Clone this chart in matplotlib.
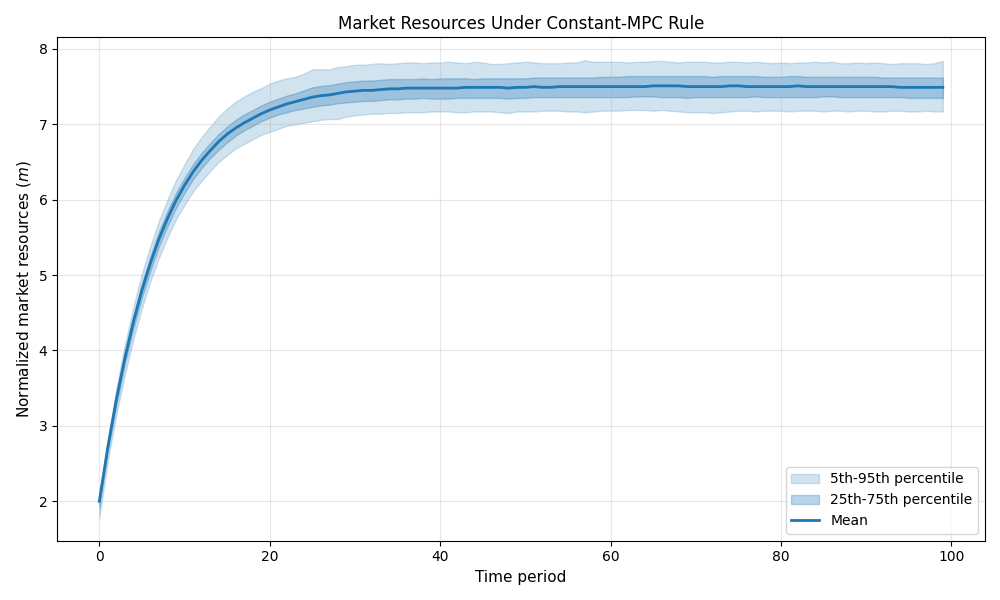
import matplotlib
matplotlib.use("Agg")
import matplotlib.pyplot as plt
import numpy as np

periods = list(range(100))

mean_m = [2.00, 2.72, 3.35, 3.90, 4.38, 4.80, 5.16, 5.48, 5.75, 5.99,
          6.19, 6.37, 6.52, 6.65, 6.77, 6.87, 6.95, 7.02, 7.08, 7.14,
          7.19, 7.23, 7.27, 7.30, 7.33, 7.36, 7.38, 7.39, 7.41, 7.43,
          7.44, 7.45, 7.45, 7.46, 7.47, 7.47, 7.48, 7.48, 7.48, 7.48,
          7.48, 7.48, 7.48, 7.49, 7.49, 7.49, 7.49, 7.49, 7.48, 7.49,
          7.49, 7.50, 7.49, 7.49, 7.50, 7.50, 7.50, 7.50, 7.50, 7.50,
          7.50, 7.50, 7.50, 7.50, 7.50, 7.51, 7.51, 7.51, 7.51, 7.50,
          7.50, 7.50, 7.50, 7.50, 7.51, 7.51, 7.50, 7.50, 7.50, 7.50,
          7.50, 7.50, 7.51, 7.50, 7.50, 7.50, 7.50, 7.50, 7.50, 7.50,
          7.50, 7.50, 7.50, 7.50, 7.49, 7.49, 7.49, 7.49, 7.49, 7.49]

p95 = [2.02, 2.82, 3.50, 4.08, 4.58, 5.02, 5.39, 5.72, 6.00, 6.26,
       6.47, 6.67, 6.83, 6.97, 7.10, 7.21, 7.30, 7.37, 7.43, 7.48,
       7.54, 7.58, 7.61, 7.63, 7.67, 7.73, 7.73, 7.73, 7.76, 7.77,
       7.79, 7.79, 7.80, 7.81, 7.80, 7.81, 7.82, 7.82, 7.81, 7.82,
       7.82, 7.83, 7.82, 7.81, 7.83, 7.82, 7.80, 7.80, 7.81, 7.82,
       7.83, 7.82, 7.81, 7.81, 7.81, 7.82, 7.82, 7.85, 7.83, 7.83,
       7.83, 7.83, 7.82, 7.83, 7.83, 7.84, 7.84, 7.83, 7.82, 7.83,
       7.83, 7.83, 7.82, 7.82, 7.83, 7.83, 7.82, 7.83, 7.82, 7.81,
       7.82, 7.81, 7.82, 7.82, 7.83, 7.82, 7.83, 7.81, 7.81, 7.82,
       7.81, 7.82, 7.81, 7.80, 7.81, 7.81, 7.81, 7.80, 7.81, 7.84]

p5 = [1.78, 2.54, 3.15, 3.68, 4.15, 4.56, 4.92, 5.23, 5.50, 5.74,
      5.93, 6.11, 6.25, 6.38, 6.50, 6.59, 6.68, 6.74, 6.80, 6.86,
      6.90, 6.94, 6.98, 7.00, 7.02, 7.04, 7.06, 7.07, 7.07, 7.10,
      7.12, 7.13, 7.14, 7.14, 7.15, 7.15, 7.16, 7.16, 7.16, 7.17,
      7.17, 7.17, 7.16, 7.16, 7.17, 7.17, 7.17, 7.16, 7.15, 7.17,
      7.17, 7.17, 7.18, 7.18, 7.18, 7.17, 7.17, 7.16, 7.17, 7.18,
      7.18, 7.18, 7.19, 7.19, 7.19, 7.18, 7.19, 7.18, 7.17, 7.16,
      7.16, 7.16, 7.15, 7.16, 7.17, 7.18, 7.18, 7.17, 7.18, 7.18,
      7.18, 7.17, 7.18, 7.18, 7.18, 7.17, 7.18, 7.18, 7.17, 7.18,
      7.18, 7.17, 7.17, 7.18, 7.18, 7.17, 7.17, 7.18, 7.17, 7.17]

p75 = [2.00, 2.76, 3.41, 3.97, 4.46, 4.89, 5.25, 5.58, 5.85, 6.09,
       6.29, 6.47, 6.62, 6.75, 6.87, 6.97, 7.06, 7.13, 7.19, 7.25,
       7.30, 7.34, 7.38, 7.41, 7.45, 7.49, 7.51, 7.52, 7.54, 7.56,
       7.57, 7.58, 7.58, 7.59, 7.60, 7.60, 7.60, 7.60, 7.61, 7.60,
       7.61, 7.61, 7.61, 7.61, 7.60, 7.61, 7.61, 7.61, 7.61, 7.61,
       7.61, 7.62, 7.62, 7.62, 7.62, 7.62, 7.62, 7.62, 7.62, 7.63,
       7.63, 7.63, 7.64, 7.64, 7.64, 7.64, 7.64, 7.64, 7.64, 7.64,
       7.64, 7.64, 7.63, 7.64, 7.64, 7.64, 7.64, 7.64, 7.63, 7.63,
       7.63, 7.64, 7.64, 7.63, 7.63, 7.63, 7.63, 7.63, 7.63, 7.63,
       7.63, 7.63, 7.62, 7.62, 7.62, 7.62, 7.62, 7.62, 7.62, 7.62]

p25 = [1.93, 2.66, 3.28, 3.82, 4.29, 4.70, 5.06, 5.38, 5.65, 5.89,
       6.09, 6.27, 6.42, 6.55, 6.66, 6.76, 6.85, 6.92, 6.98, 7.04,
       7.09, 7.13, 7.16, 7.19, 7.21, 7.23, 7.25, 7.26, 7.28, 7.29,
       7.30, 7.31, 7.31, 7.32, 7.33, 7.33, 7.34, 7.34, 7.35, 7.34,
       7.34, 7.34, 7.35, 7.35, 7.35, 7.35, 7.35, 7.35, 7.34, 7.35,
       7.35, 7.36, 7.36, 7.36, 7.36, 7.36, 7.36, 7.36, 7.36, 7.36,
       7.36, 7.36, 7.36, 7.37, 7.37, 7.37, 7.36, 7.36, 7.36, 7.35,
       7.36, 7.36, 7.36, 7.36, 7.36, 7.36, 7.36, 7.37, 7.36, 7.36,
       7.36, 7.36, 7.36, 7.36, 7.36, 7.37, 7.37, 7.36, 7.36, 7.36,
       7.36, 7.36, 7.36, 7.36, 7.36, 7.35, 7.35, 7.35, 7.35, 7.35]

fig, ax = plt.subplots(figsize=(10, 6), dpi=100)
ax.fill_between(periods, p5, p95, color="C0", alpha=0.2, label="5th-95th percentile")
ax.fill_between(periods, p25, p75, color="C0", alpha=0.3, label="25th-75th percentile")
ax.plot(periods, mean_m, color="C0", linewidth=2, label="Mean")
ax.set_title("Market Resources Under Constant-MPC Rule", fontsize=12)
ax.set_xlabel("Time period", fontsize=11)
ax.set_ylabel("Normalized market resources ($m$)", fontsize=11)
ax.grid(True, alpha=0.3)
ax.legend(loc="lower right")
fig.tight_layout()
fig.savefig("out.png")
